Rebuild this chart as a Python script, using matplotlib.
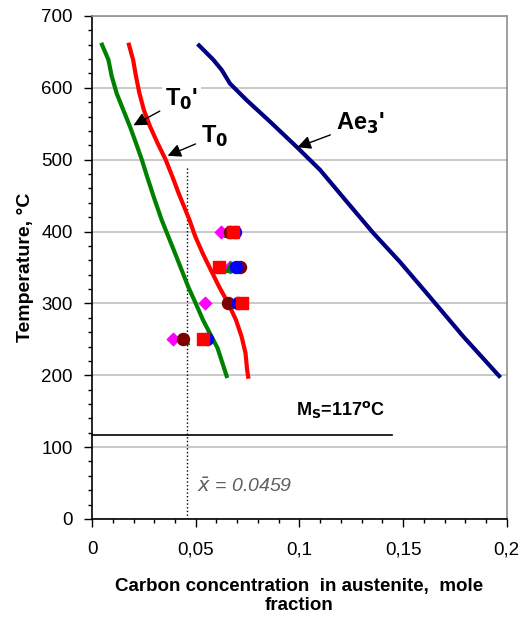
import matplotlib.pyplot as plt
import numpy as np
from matplotlib.ticker import MultipleLocator, FuncFormatter

plt.rcParams['font.family'] = ['Liberation Sans', 'DejaVu Sans']

# T0 curve (red)
t0_x = [0.0178, 0.0198, 0.0212, 0.0228, 0.0250, 0.0280, 0.0316, 0.0355, 0.0388, 0.0418,
        0.0470, 0.0498, 0.0533, 0.0572, 0.0613, 0.0657, 0.0694, 0.0721, 0.0740, 0.0748, 0.0753]
t0_T = [660, 639, 616, 593, 569, 546, 523, 500, 476, 453,
        416, 393, 370, 347, 323, 300, 277, 254, 231, 207, 198]

# T0' curve (green)
t0p_x = [0.0048, 0.0079, 0.0095, 0.0119, 0.0151, 0.0183, 0.0212, 0.0240, 0.0266, 0.0300,
         0.0336, 0.0400, 0.0464, 0.0500, 0.0535, 0.0585, 0.0605, 0.0649]
t0p_T = [660, 639, 616, 592, 569, 546, 523, 500, 476, 446,
         416, 370, 323, 300, 277, 249, 238, 199]

# Ae3' curve (navy)
ae3_x = [0.0516, 0.0585, 0.0625, 0.0665, 0.0745, 0.0858, 0.0986, 0.1099, 0.1227,
         0.1356, 0.1484, 0.1629, 0.1790, 0.1963]
ae3_T = [659, 639, 625, 606, 583, 553, 518, 486, 442, 398, 358, 309, 254, 199]

# measured points
mag_x = [0.0622, 0.0665, 0.0545, 0.0390]
mag_T = [400, 350, 300, 250]
tri_x = [0.0660, 0.0665, 0.0690, 0.0445]
tri_T = [400, 350, 300, 250]
maroon_x = [0.0665, 0.0713, 0.0655, 0.0439]
maroon_T = [400, 350, 300, 250]
blue_x = [0.0690, 0.0694, 0.0703, 0.0554]
blue_T = [400, 350, 300, 250]
sq_x = [0.0680, 0.0612, 0.0723, 0.0535]
sq_T = [400, 350, 300, 250]

x_mean = 0.0459
ms_T = 117

fig = plt.figure(figsize=(5.29, 6.19), dpi=100)
ax = fig.add_axes([0.174, 0.1616, 0.784, 0.8126])

ax.set_xlim(0, 0.2)
ax.set_ylim(0, 700)
ax.yaxis.grid(True, color='#c0c0c0', linewidth=1.2, zorder=0)
ax.set_axisbelow(True)

ax.plot(ae3_x, ae3_T, color='#000080', linewidth=3, zorder=3, solid_joinstyle='round')
ax.plot(t0_x, t0_T, color='#ff0000', linewidth=3, zorder=3, solid_joinstyle='round')
ax.plot(t0p_x, t0p_T, color='#008000', linewidth=3, zorder=3, solid_joinstyle='round')

ax.scatter(mag_x, mag_T, marker='D', s=40, color='#ff00ff', zorder=4)
ax.scatter(tri_x, tri_T, marker='^', s=50, color='#008000', zorder=4)
ax.scatter(maroon_x, maroon_T, marker='o', s=75, color='#800000', zorder=5)
ax.scatter(blue_x, blue_T, marker='o', s=75, color='#0000ff', zorder=5)
ax.scatter(sq_x, sq_T, marker='s', s=75, color='#ff0000', zorder=6)

ax.plot([x_mean, x_mean], [0, 490], color='black', linestyle=':', linewidth=1, zorder=2)
ax.plot([0, 0.1446], [ms_T, ms_T], color='black', linewidth=1.2, zorder=2)

ax.text(0.12, 153, r'M$_\mathbf{S}$=117$^\mathbf{o}$C', fontsize=13, fontweight='bold',
        ha='center', va='center')
ax.text(0.0505, 45, r'$\bar{x}$ = 0.0459', fontsize=14, style='italic', color='#606060',
        ha='left', va='center')

bbox = dict(facecolor='white', edgecolor='none', pad=2)
arrow = dict(arrowstyle='-|>', color='black', lw=1, mutation_scale=20)
ax.annotate("T$_\\mathbf{0}$'", xy=(0.0188, 546), xytext=(0.0352, 584), fontsize=17,
            fontweight='bold', ha='left', va='center', bbox=bbox, arrowprops=arrow, zorder=7)
ax.annotate("T$_\\mathbf{0}$", xy=(0.0352, 504), xytext=(0.0525, 533), fontsize=17,
            fontweight='bold', ha='left', va='center', bbox=bbox, arrowprops=arrow, zorder=7)
ax.annotate("Ae$_\\mathbf{3}$'", xy=(0.0978, 516), xytext=(0.1175, 550), fontsize=17,
            fontweight='bold', ha='left', va='center', arrowprops=arrow, zorder=7)

ax.xaxis.set_major_locator(MultipleLocator(0.05))
ax.xaxis.set_minor_locator(MultipleLocator(0.01))
ax.yaxis.set_major_locator(MultipleLocator(100))
ax.yaxis.set_minor_locator(MultipleLocator(20))
ax.xaxis.set_major_formatter(FuncFormatter(lambda v, p: ('%g' % round(v, 3)).replace('.', ',')))
ax.tick_params(axis='both', which='major', labelsize=13.5, length=6, width=1, pad=8)
ax.tick_params(axis='x', which='major', pad=10)
ax.tick_params(axis='both', which='minor', length=3, width=1)

ax.spines['left'].set_linewidth(1.2)
ax.spines['bottom'].set_linewidth(1.2)
ax.spines['top'].set_color('#909090')
ax.spines['right'].set_color('#909090')
ax.spines['top'].set_linewidth(1.2)
ax.spines['right'].set_linewidth(1.2)

ax.set_ylabel('Temperature, °C', fontsize=14, fontweight='bold', labelpad=5)
ax.set_xlabel('Carbon concentration  in austenite,  mole\nfraction', fontsize=13.5,
              fontweight='bold', labelpad=14, linespacing=1.2)

fig.savefig('out.png', dpi=100)
